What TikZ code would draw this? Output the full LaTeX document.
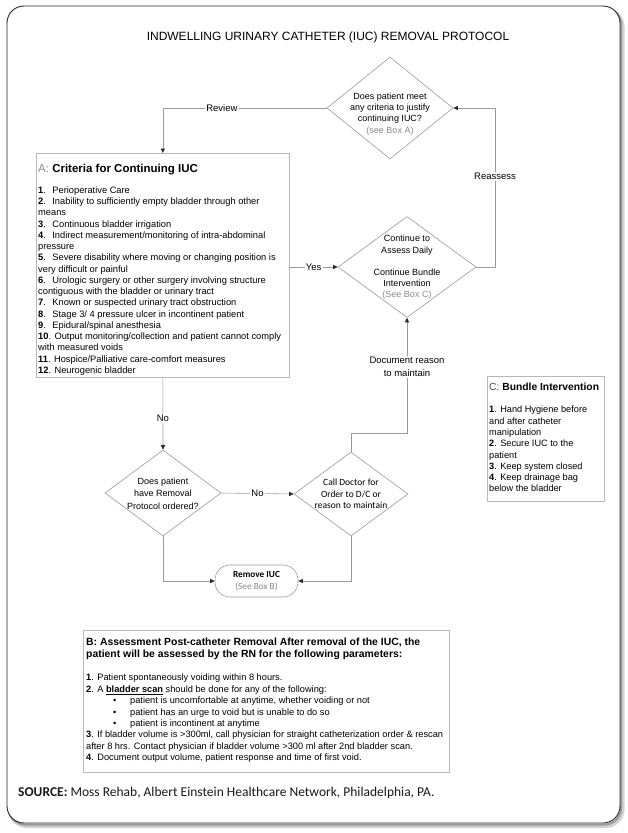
\documentclass[tikz,border=0pt]{standalone}
\usepackage{fontspec}
\setmainfont{Liberation Sans}
\newfontfamily\cfont{Carlito}
\usetikzlibrary{arrows.meta,calc,shapes.geometric}
\definecolor{lnc}{HTML}{9A9A9A}
\definecolor{boxc}{HTML}{B8B8B8}
\definecolor{graytxt}{HTML}{8A8A8A}
\definecolor{arrc}{HTML}{2A2A2A}
\begin{document}
\begin{tikzpicture}[x=1pt,y=-1pt,
  conn/.style={draw=lnc, line width=0.6pt},
  arr/.style={conn, -{Triangle[length=4.5pt,width=4pt,color=arrc]}},
  dia/.style={draw=lnc, line width=0.6pt, shape=diamond, inner sep=0pt, fill=white},
  dtext/.style={align=center, font=\fontsize{9}{11.2}\selectfont, inner sep=0pt},
  boxn/.style={draw=boxc, line width=0.7pt, fill=white, inner sep=0pt, anchor=north west},
  lbl/.style={fill=white, inner sep=1.2pt, font=\fontsize{9.5}{12.5}\selectfont, align=center},
  btext/.style={anchor=north west, align=left, inner sep=0pt},
  ]
\useasboundingbox (0,0) rectangle (627,833);
\fill[white] (0,0) rectangle (627,833);
% frame with shadow
\draw[line width=4pt, black!18, rounded corners=17] (10,9.5) rectangle (622.5,826);
\draw[line width=2pt, black!40, rounded corners=17] (8.5,8) rectangle (621.2,824.6);
\draw[line width=0.9pt, black!85, fill=white, rounded corners=17] (7,6) rectangle (620,823);

\node[font=\fontsize{12}{14}\selectfont, inner sep=0pt] (title) at (328,37) {INDWELLING URINARY CATHETER (IUC) REMOVAL PROTOCOL};

% diamonds
\node[dia, minimum width=126, minimum height=102] (d1) at (390,108) {};
\node[dtext] (t1) at (390,114) {Does patient meet\\any criteria to justify\\continuing IUC?\\{\color{graytxt}(see Box A)}};

\node[dia, minimum width=138, minimum height=101] (d2) at (407,267) {};
\node[dtext] (t2) at (407,267.5) {Continue to\\Assess Daily\\[11pt]Continue Bundle\\Intervention\\{\color{graytxt}(See Box C)}};

\node[dia, minimum width=116, minimum height=86] (d3) at (163,493) {};
\node[dtext, font=\fontsize{9}{12.5}\selectfont] (t3) at (163,493.5) {Does patient\\have Removal\\Protocol ordered?};

\node[dia, minimum width=114, minimum height=84] (d4) at (351,494) {};
\node[dtext, font=\cfont\fontsize{9.5}{11.5}\selectfont] (t4) at (351,494) {Call Doctor for\\Order to D/C or\\reason to maintain};

\node[draw=lnc, line width=0.6pt, rounded corners=15, minimum width=83, minimum height=32, inner sep=0pt, align=center, font=\cfont\fontsize{9.3}{12}\selectfont] (R) at (256.5,581) {\textbf{Remove IUC}\\{\color{graytxt}(See Box B)}};

% Box A
\node[boxn, minimum width=253, minimum height=224] (A) at (36,153) {};
\node[anchor=west, inner sep=0pt, font=\fontsize{11.5}{13}\selectfont] (Ah) at (38,170) {{\color{graytxt}A:} \textbf{Criteria for Continuing IUC}};
\node[btext, font=\fontsize{9.3}{11.25}\selectfont] (Ab) at (38,186.5) {%
\textbf{1}.\hspace{3pt} Perioperative Care\\
\textbf{2}.\hspace{3pt} Inability to sufficiently empty bladder through other\\
means\\
\textbf{3}.\hspace{3pt} Continuous bladder irrigation\\
\textbf{4}.\hspace{3pt} Indirect measurement/monitoring of intra-abdominal\\
pressure\\
\textbf{5}.\hspace{3pt} Severe disability where moving or changing position is\\
very difficult or painful\\
\textbf{6}.\hspace{3pt} Urologic surgery or other surgery involving structure\\
contiguous with the bladder or urinary tract\\
\textbf{7}.\hspace{3pt} Known or suspected urinary tract obstruction\\
\textbf{8}.\hspace{3pt} Stage 3/ 4 pressure ulcer in incontinent patient\\
\textbf{9}.\hspace{3pt} Epidural/spinal anesthesia\\
\textbf{10}. Output monitoring/collection and patient cannot comply\\
with measured voids\\
\textbf{11}. Hospice/Palliative care-comfort measures\\
\textbf{12}. Neurogenic bladder};

% Box C
\node[boxn, minimum width=117, minimum height=125] (C) at (487,376) {};
\node[anchor=west, inner sep=0pt, font=\fontsize{10.3}{12}\selectfont] (Ch) at (489,387) {{\color{black!70}C:} \textbf{Bundle Intervention}};
\node[btext, font=\fontsize{9.2}{11.3}\selectfont] (Cb) at (489,406) {%
\textbf{1}. Hand Hygiene before\\
and after catheter\\
manipulation\\
\textbf{2}. Secure IUC to the\\
patient\\
\textbf{3}. Keep system closed\\
\textbf{4}. Keep drainage bag\\
below the bladder};

% Box B
\node[boxn, minimum width=366, minimum height=142] (B) at (83,630) {};
\node[btext, font=\fontsize{10.4}{12}\selectfont] (Bh) at (86,637.5) {\textbf{B: Assessment Post-catheter Removal After removal of the IUC, the}\\
\textbf{patient will be assessed by the RN for the following parameters:}};
\node[btext, font=\fontsize{9.25}{11.4}\selectfont] (Bb) at (86,674) {%
\textbf{1}. Patient spontaneously voiding within 8 hours.\\
\textbf{2}. A \underline{\textbf{bladder scan}} should be done for any of the following:\\
\hspace*{27pt}\makebox[17pt][l]{\textbullet}patient is uncomfortable at anytime, whether voiding or not\\
\hspace*{27pt}\makebox[17pt][l]{\textbullet}patient has an urge to void but is unable to do so\\
\hspace*{27pt}\makebox[17pt][l]{\textbullet}patient is incontinent at anytime\\
\textbf{3}. If bladder volume is >300ml, call physician for straight catheterization order \& rescan\\
after 8 hrs. Contact physician if bladder volume >300 ml after 2nd bladder scan.\\
\textbf{4}. Document output volume, patient response and time of first void.};

\node[anchor=west, inner sep=0pt, font=\cfont\fontsize{13.5}{15}\selectfont, text=black!90] (src) at (18,793) {\textbf{SOURCE:} Moss Rehab, Albert Einstein Healthcare Network, Philadelphia, PA.};

% connectors
\coordinate (rr) at (495,108);
\coordinate (dc) at (407,433);
\draw[arr] (d1.west) -| (A.north) node[lbl, pos=0.32] {Review};
\draw[arr] (d2.east) -| (rr) node[lbl, pos=0.785] {Reassess} -- (d1.east);
\draw[arr] (A.east |- d2.west) -- (d2.west) node[lbl, midway] {Yes};
\draw[arr] (A.south) -- (d3.north) node[lbl, pos=0.56] {No};
\draw[arr] (d3.east) -- (d4.west) node[lbl, midway] {No};
\draw[arr] (d3.south) |- (R.west);
\draw[arr] (d4.south) |- (R.east);
\draw[arr] (d4.north) |- (dc) -- (d2.south) node[lbl, pos=0.575] {Document reason\\to maintain};
\end{tikzpicture}
\end{document}
